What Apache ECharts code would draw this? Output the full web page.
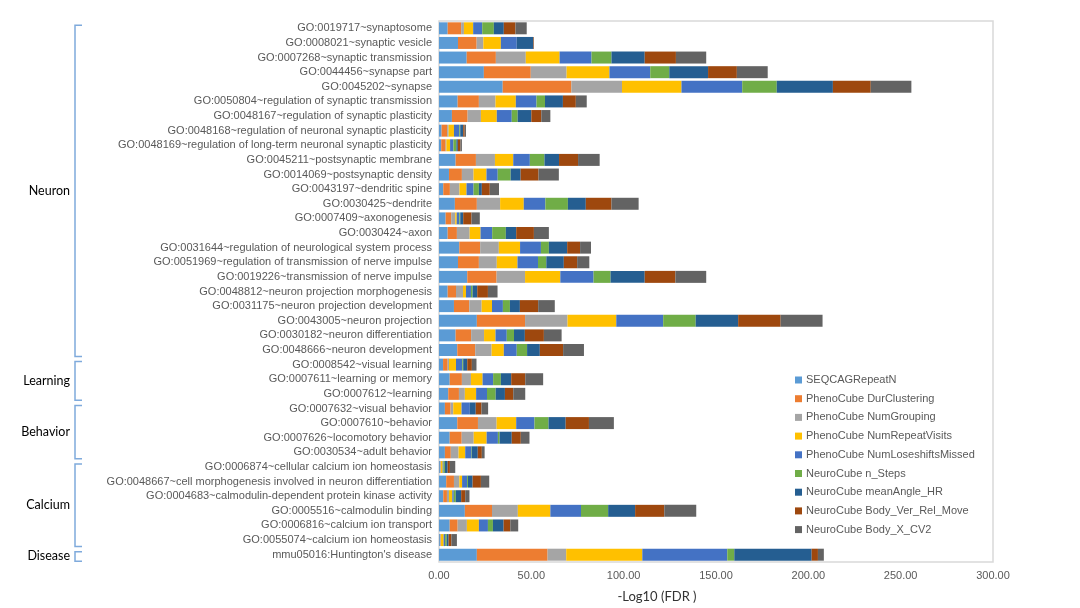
<!DOCTYPE html>
<html>
<head>
<meta charset="utf-8">
<script src="https://cdn.jsdelivr.net/npm/echarts@6/dist/echarts.min.js"></script>
<style>html,body{margin:0;padding:0;background:#fff}#c{width:1080px;height:608px}</style>
</head>
<body>
<div id="c"></div>
<script>
const categories = [
"GO:0019717~synaptosome","GO:0008021~synaptic vesicle","GO:0007268~synaptic transmission","GO:0044456~synapse part","GO:0045202~synapse",
"GO:0050804~regulation of synaptic transmission","GO:0048167~regulation of synaptic plasticity","GO:0048168~regulation of neuronal synaptic plasticity",
"GO:0048169~regulation of long-term neuronal synaptic plasticity","GO:0045211~postsynaptic membrane","GO:0014069~postsynaptic density",
"GO:0043197~dendritic spine","GO:0030425~dendrite","GO:0007409~axonogenesis","GO:0030424~axon","GO:0031644~regulation of neurological system process",
"GO:0051969~regulation of transmission of nerve impulse","GO:0019226~transmission of nerve impulse","GO:0048812~neuron projection morphogenesis",
"GO:0031175~neuron projection development","GO:0043005~neuron projection","GO:0030182~neuron differentiation","GO:0048666~neuron development",
"GO:0008542~visual learning","GO:0007611~learning or memory","GO:0007612~learning",
"GO:0007632~visual behavior","GO:0007610~behavior","GO:0007626~locomotory behavior","GO:0030534~adult behavior",
"GO:0006874~cellular calcium ion homeostasis","GO:0048667~cell morphogenesis involved in neuron differentiation",
"GO:0004683~calmodulin-dependent protein kinase activity","GO:0005516~calmodulin binding","GO:0006816~calcium ion transport",
"GO:0055074~calcium ion homeostasis","mmu05016:Huntington's disease"
];
const seriesNames = ["SEQCAGRepeatN","PhenoCube DurClustering","PhenoCube NumGrouping","PhenoCube NumRepeatVisits","PhenoCube NumLoseshiftsMissed","NeuroCube n_Steps","NeuroCube meanAngle_HR","NeuroCube Body_Ver_Rel_Move","NeuroCube Body_X_CV2"];
const seqCAGRepeatN = [4.7,10.3,15.0,24.3,34.5,10.1,7.0,1.4,1.2,9.0,5.4,2.3,8.6,3.6,4.7,11.0,10.3,15.3,4.7,8.1,20.5,9.0,9.9,2.2,5.8,5.0,3.2,9.9,5.8,3.2,0.5,3.9,2.3,14.0,5.8,0.5,20.5];
const durClustering = [7.3,10.1,15.8,25.4,37.2,11.5,8.5,3.0,2.4,11.0,7.0,3.6,11.9,3.0,5.0,11.3,11.3,15.9,4.5,8.3,26.1,8.4,9.7,2.5,6.6,5.8,3.1,11.2,6.5,3.2,0.3,4.2,2.0,14.7,4.3,0.3,38.3];
const numGrouping = [1.5,3.6,16.2,19.4,27.4,9.0,7.2,0.8,0.4,10.3,6.3,5.2,12.6,2.2,6.9,10.1,9.7,15.4,3.8,6.7,23.0,7.0,8.9,0.7,4.9,3.2,1.4,10.1,6.5,4.2,0.3,2.9,1.1,14.0,5.0,0.3,10.1];
const numRepeatVisits = [5.0,9.5,18.3,23.2,32.2,11.0,8.6,2.9,2.0,9.9,7.0,3.8,12.8,0.8,5.9,11.5,11.2,19.1,1.6,5.6,26.4,6.2,6.6,3.8,6.3,6.1,4.5,10.6,7.0,3.6,0.9,1.5,1.8,17.6,6.5,1.4,41.2];
const numLoseshiftsMissed = [4.9,8.6,17.3,22.1,32.9,11.2,8.1,2.9,1.8,9.0,6.1,3.8,11.7,1.4,6.3,11.3,11.1,18.0,2.7,5.9,25.4,6.1,7.0,3.4,5.7,5.9,4.5,9.9,6.1,3.2,0.5,2.7,0.8,16.6,4.9,0.8,46.0];
const nSteps = [6.3,0,10.8,10.3,18.7,4.6,3.2,0.5,1.6,7.9,7.0,2.9,12.2,0.5,7.4,4.3,4.5,9.2,0.9,3.8,17.6,3.9,5.6,0.5,4.2,4.7,0,7.6,0.9,0.3,0.7,0.5,1.1,14.7,2.7,0.9,3.8];
const meanAngleHR = [5.4,9.0,18.0,21.0,30.4,9.7,7.4,1.6,0.8,7.9,5.4,1.6,9.7,1.6,5.6,9.9,9.5,18.5,2.5,5.4,23.0,5.9,6.9,2.2,5.6,5.0,3.2,9.3,6.6,3.3,1.5,2.5,2.9,14.6,5.8,1.0,41.9];
const bodyVerRelMove = [6.3,0.3,16.9,15.6,20.5,7.0,5.4,0.8,1.4,10.3,9.7,4.3,13.9,4.5,9.6,7.0,7.2,16.6,5.8,9.9,23.0,10.3,12.6,2.5,7.6,4.5,3.1,12.6,4.9,2.2,1.2,4.5,2.2,15.8,3.6,1.5,3.4];
const bodyXCV2 = [6.1,0,16.4,16.7,22.0,5.9,4.9,0.7,0.8,11.7,11.0,5.0,14.7,4.5,8.1,5.9,6.6,16.7,5.2,9.0,22.7,9.6,11.3,2.5,9.7,6.5,3.6,13.5,4.7,1.5,2.9,4.5,2.3,17.3,4.3,3.0,3.2];
const xTicks = [0,50,100,150,200,250,300];
const groups = [
  {name:"Neuron", first:0, last:22},
  {name:"Learning", first:23, last:25},
  {name:"Behavior", first:26, last:29},
  {name:"Calcium", first:30, last:35},
  {name:"Disease", first:36, last:36}
];

const seriesData = [seqCAGRepeatN,durClustering,numGrouping,numRepeatVisits,numLoseshiftsMissed,nSteps,meanAngleHR,bodyVerRelMove,bodyXCV2];
const colors = ['#5B9BD5','#ED7D31','#A5A5A5','#FFC000','#4472C4','#70AD47','#255E91','#9E480E','#636363'];

const chart = echarts.init(document.getElementById('c'), null, {renderer:'canvas'});
const font = "'Liberation Sans', Arial, sans-serif";
chart.setOption({
  animation:false,
  color:colors,
  textStyle:{fontFamily:font},
  grid:{left:439,right:87,top:21,bottom:46,show:true,borderColor:'#d9d9d9',borderWidth:1.5,backgroundColor:'#fff'},
  legend:{
    orient:'vertical', left:795, top:374, padding:0,
    itemWidth:7, itemHeight:7, itemGap:6.7, icon:'rect',
    textStyle:{fontSize:11,color:'#595959',fontFamily:font,lineHeight:12,padding:[0,0,0,-1]},
    data:seriesNames
  },
  xAxis:{
    type:'value', min:xTicks[0], max:xTicks[xTicks.length-1], interval:xTicks[1]-xTicks[0],
    axisLine:{show:false}, axisTick:{show:false}, splitLine:{show:false},
    axisLabel:{color:'#595959',fontSize:11,margin:8,formatter:v=>v.toFixed(2)}
  },
  yAxis:{
    type:'category', data:categories, inverse:true,
    axisLine:{show:false}, axisTick:{show:false},
    axisLabel:{color:'#595959',fontSize:11,margin:7,interval:0}
  },
  series:seriesNames.map((n,i)=>({
    name:n, type:'bar', stack:'total', data:seriesData[i],
    barCategoryGap:'18%'
  }))
});

const g = [];
groups.forEach(gr=>{
  const top = chart.convertToPixel({yAxisIndex:0}, categories[gr.first]) - 3;
  const bot = chart.convertToPixel({yAxisIndex:0}, categories[gr.last]) + 6.5;
  g.push({type:'polyline', shape:{points:[[82,top],[75,top],[75,bot],[82,bot]]},
    style:{stroke:'#7FAADC',lineWidth:1.5,fill:null}});
  g.push({type:'text', x:70, y:(top+bot)/2,
    style:{text:gr.name, fill:'#000', font:"12.5px Lato, 'Open Sans', sans-serif", textAlign:'right', textVerticalAlign:'middle'}});
});
g.push({type:'text', x:657, y:597, style:{text:'-Log10 (FDR )', fill:'#333', font:"13px Lato, 'Open Sans', sans-serif", textAlign:'center', textVerticalAlign:'middle'}});
chart.setOption({graphic:g});
</script>
</body>
</html>
